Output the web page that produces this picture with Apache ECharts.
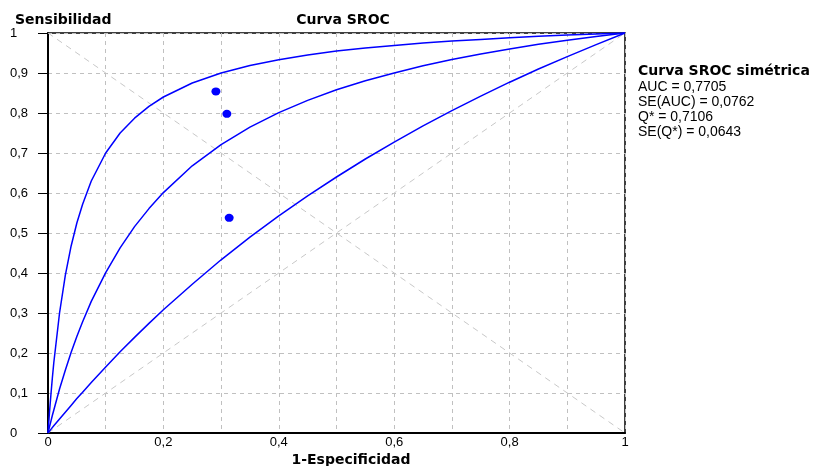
<!DOCTYPE html>
<html>
<head>
<meta charset="utf-8">
<script src="https://cdn.jsdelivr.net/npm/echarts@6/dist/echarts.min.js"></script>
<style>
  html, body { margin: 0; padding: 0; background: #fff; }
  #chart { width: 819px; height: 466px; }
</style>
</head>
<body>
<div id="chart"></div>
<script>
// valores (1-Especificidad)
const fprValues = [0, 0.0025, 0.005, 0.0075, 0.01, 0.02, 0.03, 0.04, 0.05, 0.06, 0.075, 0.1, 0.125, 0.15, 0.175,
  0.2, 0.25, 0.3, 0.35, 0.4, 0.45, 0.5, 0.55, 0.6, 0.65, 0.7, 0.75, 0.8, 0.85, 0.9, 0.95, 1];
// curva superior, central (SROC) e inferior
const upperCurve = [0, 0.050, 0.095, 0.137, 0.175, 0.300, 0.394, 0.467, 0.525, 0.572, 0.630, 0.700, 0.750, 0.787, 0.8165,
  0.840, 0.875, 0.900, 0.919, 0.933, 0.945, 0.955, 0.9625, 0.969, 0.975, 0.980, 0.984, 0.988, 0.9917, 0.995, 0.9975, 1];
const srocCurve = [0, 0.015, 0.029, 0.0437, 0.057, 0.110, 0.157, 0.201, 0.241, 0.278, 0.329, 0.401, 0.463, 0.516, 0.561,
  0.601, 0.668, 0.721, 0.7645, 0.801, 0.8315, 0.858, 0.8806, 0.900, 0.918, 0.934, 0.9477, 0.960, 0.9716, 0.982, 0.991, 1];
const lowerCurve = [0, 0.0045, 0.009, 0.0133, 0.018, 0.035, 0.052, 0.069, 0.086, 0.102, 0.126, 0.165, 0.203, 0.239, 0.274,
  0.308, 0.372, 0.433, 0.4895, 0.543, 0.593, 0.640, 0.685, 0.727, 0.768, 0.806, 0.842, 0.877, 0.910, 0.941, 0.971, 1];

// estudios
const studyX = [0.291, 0.310, 0.314];
const studyY = [0.854, 0.798, 0.538];

const diagonal     = [[0, 0], [1, 1]];
const antiDiagonal = [[0, 1], [1, 0]];

const statsTitle = 'Curva SROC simétrica';
const statsLines = ['AUC = 0,7705', 'SE(AUC) = 0,0762', 'Q* = 0,7106', 'SE(Q*) = 0,0643'];

function pairs(xs, ys) {
  return xs.map((x, i) => [x, ys[i]]);
}
function fmt(v) {
  return String(Math.round(v * 10) / 10).replace('.', ',');
}

const chart = echarts.init(document.getElementById('chart'));

const gridStyle = { color: '#c0c0c0', width: 1, type: [4, 4] };
const curveStyle = { color: '#0000ff', width: 1.5 };
const boldText = { fontSize: 14, fontWeight: 'bold', color: '#000', fontFamily: 'DejaVu Sans' };

const option = {
  backgroundColor: '#fff',
  animation: false,
  textStyle: { fontFamily: 'DejaVu Sans' },
  grid: {
    left: 48, right: 194, top: 33, bottom: 33,
    show: true, borderColor: '#000', borderWidth: 1.5, backgroundColor: 'transparent'
  },
  title: [
    { text: 'Sensibilidad', left: 10, top: 8, textStyle: boldText },
    { text: 'Curva SROC', left: 338, top: 8, textAlign: 'center', textStyle: boldText },
    { text: '1-Especificidad', left: 346, top: 448, textAlign: 'center', textStyle: boldText }
  ],
  graphic: [
    { type: 'text', left: 638, top: 64,
      style: { text: statsTitle, font: 'bold 14px "DejaVu Sans"', fill: '#000' } },
    { type: 'text', left: 638, top: 79,
      style: { text: statsLines.join('\n'), font: '14px "Liberation Sans"', lineHeight: 15.3, fill: '#000' } }
  ],
  xAxis: {
    type: 'value', min: 0, max: 1, interval: 0.1,
    axisLine: { show: true, onZero: false, lineStyle: { color: '#000', width: 2 } },
    axisTick: { show: false },
    splitLine: { show: true, lineStyle: gridStyle },
    axisLabel: {
      color: '#000', fontSize: 13, fontFamily: 'Liberation Sans', margin: 3,
      formatter: v => (Math.round(v * 10) % 2 === 0 ? fmt(v) : '')
    }
  },
  yAxis: {
    type: 'value', min: 0, max: 1, interval: 0.1,
    axisLine: { show: true, onZero: false, lineStyle: { color: '#000', width: 2 } },
    axisTick: { show: true, length: 10, lineStyle: { color: '#000', width: 1 } },
    splitLine: { show: true, lineStyle: gridStyle },
    axisLabel: {
      color: '#000', fontSize: 13, fontFamily: 'Liberation Sans', margin: 38, align: 'left',
      formatter: v => fmt(v)
    }
  },
  series: [
    { type: 'line', data: diagonal, symbol: 'none', silent: true,
      lineStyle: { color: '#c8c8c8', width: 1, type: [6, 5] } },
    { type: 'line', data: antiDiagonal, symbol: 'none', silent: true,
      lineStyle: { color: '#c8c8c8', width: 1, type: [6, 5] } },
    { type: 'line', data: pairs(fprValues, upperCurve), symbol: 'none', lineStyle: curveStyle },
    { type: 'line', data: pairs(fprValues, srocCurve), symbol: 'none', lineStyle: curveStyle },
    { type: 'line', data: pairs(fprValues, lowerCurve), symbol: 'none', lineStyle: curveStyle },
    { type: 'scatter', data: pairs(studyX, studyY), symbol: 'circle', symbolSize: [9, 8],
      itemStyle: { color: '#0000ff', opacity: 1 } }
  ]
};

chart.setOption(option);
</script>
</body>
</html>
